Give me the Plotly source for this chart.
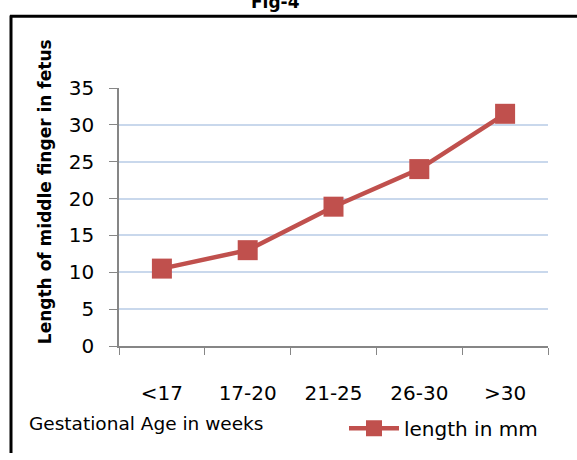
import plotly.graph_objects as go

categories = ["<17", "17-20", "21-25", "26-30", ">30"]
length_mm = [10.5, 13.0, 18.9, 24.0, 31.5]
y_ticks = [0, 5, 10, 15, 20, 25, 30, 35]

W, H = 577, 460
L, R, T, B = 119, 29, 88, 102
pw, ph = W - L - R, H - T - B

def px_x(x):
    return (x - L) / pw

def px_y(y):
    return 1 - (y - T) / ph

FONT = "DejaVu Sans"
RED = "#c0504d"

fig = go.Figure()
fig.add_trace(go.Scatter(
    x=categories, y=length_mm, mode="lines+markers", name="length in mm",
    line=dict(color=RED, width=4.5),
    marker=dict(symbol="square", size=20, color=RED),
))

fig.update_layout(
    width=W, height=H,
    margin=dict(l=L, r=R, t=T, b=B),
    paper_bgcolor="white", plot_bgcolor="white",
    font=dict(family=FONT, size=20, color="black"),
    showlegend=True,
    legend=dict(orientation="h", x=px_x(344), xanchor="left",
                y=px_y(444), yanchor="middle",
                font=dict(family=FONT, size=20, color="black"),
                bgcolor="rgba(0,0,0,0)", itemwidth=50),
    xaxis=dict(type="category", tickmode="array", tickvals=categories,
               ticktext=categories, showline=True, linecolor="#868686",
               linewidth=1.5, ticks="outside", tickson="boundaries",
               ticklen=7, tickcolor="#868686", showgrid=False,
               tickfont=dict(family=FONT, size=20), ticklabelstandoff=28,
               range=[-0.5, 4.5]),
    yaxis=dict(range=[0, 35], tickvals=y_ticks, showline=True,
               linecolor="#868686", linewidth=1.5, ticks="outside",
               ticklen=8, tickcolor="#868686", showgrid=True,
               gridcolor="#c9d8ec", gridwidth=2, zeroline=False,
               tickfont=dict(family=FONT, size=20), ticklabelstandoff=11),
)

fig.add_annotation(text="<b>Length of middle finger in fetus</b>", xref="paper",
                   yref="paper", x=px_x(45), y=px_y(197), textangle=-90,
                   showarrow=False, font=dict(family=FONT, size=17, color="black"),
                   xanchor="center", yanchor="middle")
fig.add_annotation(text="Gestational Age in weeks", xref="paper", yref="paper",
                   x=px_x(27), y=px_y(439), xanchor="left", yanchor="middle",
                   showarrow=False, font=dict(family=FONT, size=18.5, color="black"))
fig.add_annotation(text="<b>Fig-4</b>", xref="paper", yref="paper",
                   x=px_x(275), y=px_y(-2), xanchor="center", yanchor="middle",
                   showarrow=False, font=dict(family=FONT, size=17, color="black"))

fig.add_shape(type="line", xref="paper", yref="paper", x0=px_x(11), x1=px_x(11),
              y0=px_y(12), y1=px_y(470), line=dict(color="black", width=3))
fig.add_shape(type="line", xref="paper", yref="paper", x0=px_x(10), x1=px_x(590),
              y0=px_y(13), y1=px_y(13), line=dict(color="black", width=3))

fig.write_html("out.html", post_script="document.body.style.margin='0px';",
               config={"displayModeBar": False})
